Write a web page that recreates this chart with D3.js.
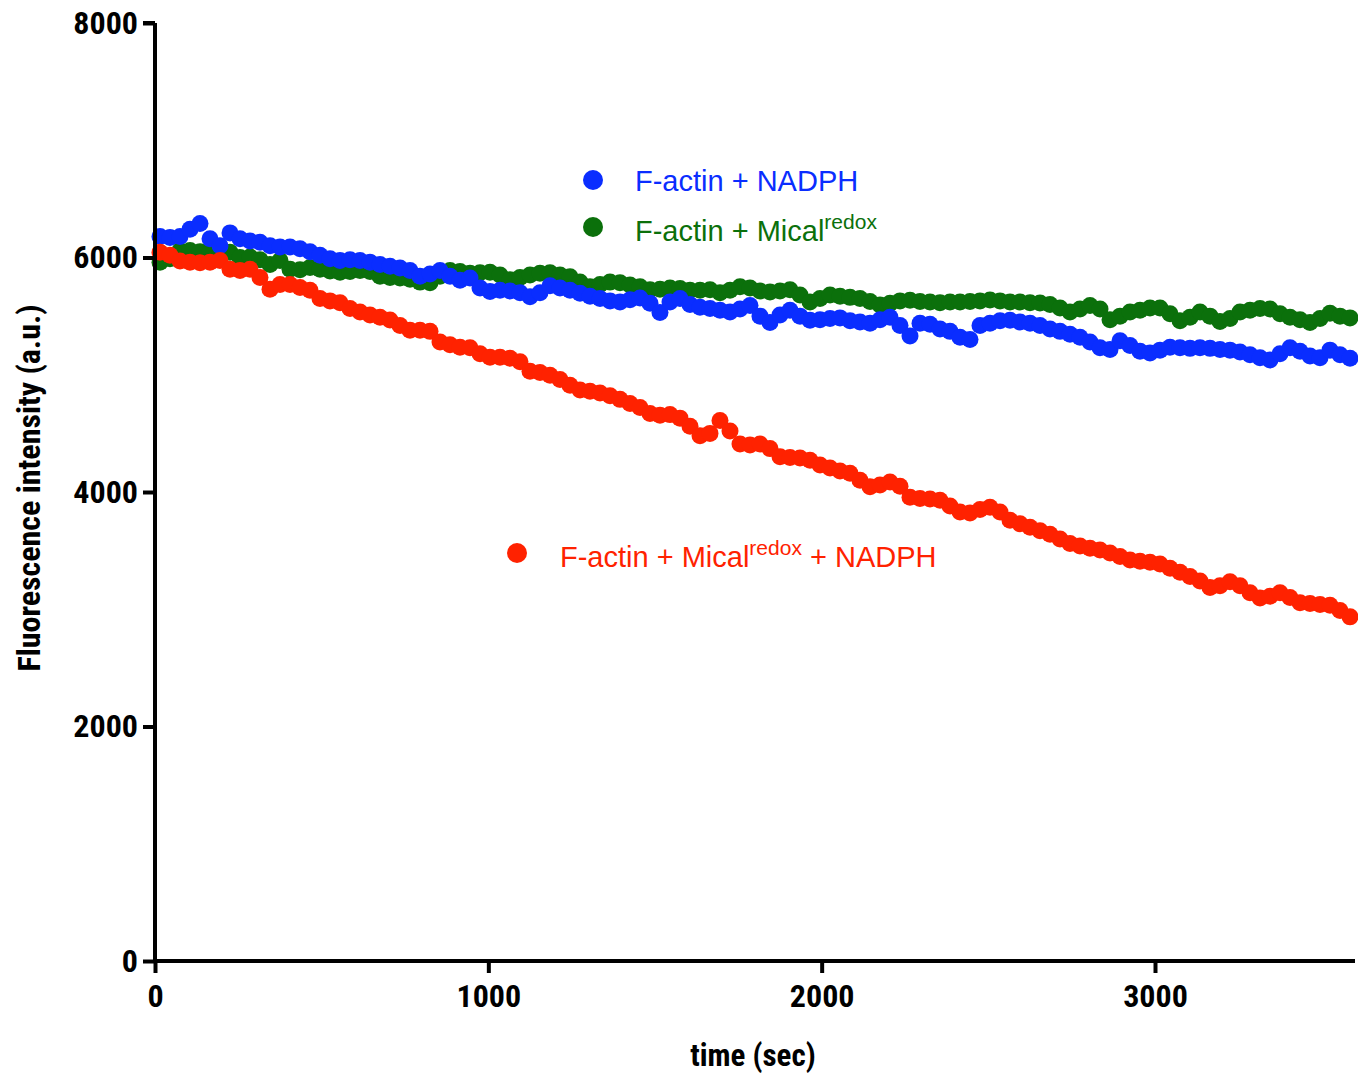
<!DOCTYPE html>
<html>
<head>
<meta charset="utf-8">
<script src="https://cdn.jsdelivr.net/npm/d3@7"></script>
<style>
  html, body { margin: 0; padding: 0; background: #fff; }
  svg { display: block; }
  .narrow { font-family: "Liberation Sans Narrow", "Arial Narrow", "Roboto Condensed", "Liberation Sans", Arial, sans-serif; }
  .legend { font-family: "Liberation Sans", Arial, Helvetica, sans-serif; }
</style>
</head>
<body>
<svg id="chart" width="1358" height="1079"></svg>
<script>
// ---- data ----
const startTime = 15;      // s, first reading
const sampleStep = 30;     // s between readings

const seriesNames = ["F-actin + NADPH", "F-actin + Mical redox", "F-actin + Mical redox + NADPH"];

const nadph = [6180,6170,6180,6240,6290,6160,6100,6210,6160,6140,
  6130,6100,6090,6090,6075,6050,6020,5990,5975,5980,
  5975,5960,5940,5925,5910,5890,5840,5860,5890,5840,
  5805,5825,5740,5710,5720,5715,5700,5665,5700,5760,
  5740,5720,5695,5670,5650,5630,5620,5640,5655,5610,
  5530,5620,5650,5600,5575,5565,5550,5535,5560,5590,
  5500,5445,5510,5550,5500,5465,5470,5480,5485,5460,
  5450,5440,5470,5490,5420,5330,5440,5430,5390,5370,
  5320,5300,5420,5440,5460,5465,5450,5440,5420,5390,
  5370,5345,5320,5280,5230,5215,5290,5250,5200,5185,
  5210,5235,5230,5225,5230,5225,5215,5210,5195,5170,
  5145,5125,5180,5230,5200,5160,5145,5210,5170,5140];

const micalRedox = [5960,5990,6060,6060,6050,6045,6040,6045,6000,6005,
  5980,5940,5975,5900,5895,5915,5900,5885,5875,5880,
  5890,5880,5840,5830,5825,5815,5790,5785,5840,5890,
  5880,5865,5870,5875,5850,5810,5830,5850,5865,5870,
  5850,5835,5790,5750,5770,5790,5785,5765,5750,5725,
  5730,5740,5735,5720,5720,5725,5700,5720,5750,5740,
  5715,5705,5715,5725,5680,5620,5650,5680,5670,5660,
  5650,5625,5595,5610,5630,5635,5625,5620,5615,5620,
  5620,5625,5630,5637,5630,5620,5620,5615,5612,5600,
  5570,5535,5560,5590,5560,5470,5500,5535,5550,5570,
  5570,5520,5460,5490,5535,5500,5455,5480,5535,5550,
  5565,5560,5520,5490,5470,5445,5480,5525,5500,5485];

const micalRedoxNadph = [6045,6020,5970,5960,5955,5960,5975,5900,5890,5900,
  5830,5730,5770,5770,5745,5720,5650,5630,5615,5565,
  5535,5510,5490,5467,5420,5380,5380,5370,5280,5255,
  5235,5230,5180,5150,5150,5140,5110,5030,5020,4995,
  4960,4910,4870,4860,4845,4820,4790,4755,4720,4670,
  4655,4660,4630,4560,4480,4500,4610,4520,4410,4400,
  4410,4370,4300,4295,4290,4270,4230,4205,4180,4160,
  4100,4045,4060,4085,4050,3955,3945,3940,3930,3880,
  3830,3820,3850,3870,3830,3760,3730,3700,3670,3640,
  3600,3560,3540,3520,3505,3480,3450,3420,3410,3400,
  3385,3350,3315,3280,3240,3185,3200,3235,3200,3140,
  3095,3110,3140,3100,3055,3050,3040,3035,2990,2935];

const xTicks = [0, 1000, 2000, 3000];
const yTicks = [0, 2000, 4000, 6000, 8000];
const colors = ["#0a2dff", "#0b700b", "#ff2200"];

// ---- layout ----
const svg = d3.select("#chart");
const x = d3.scaleLinear().domain([0, 3600]).range([155, 1355]);
const y = d3.scaleLinear().domain([0, 8000]).range([961, 23]);

const times = d3.range(nadph.length).map(i => startTime + i * sampleStep);
const toPts = arr => arr.map((v, i) => ({t: times[i], v}));

// draw order: green, blue, red
const drawOrder = [
  {data: toPts(micalRedox), color: colors[1]},
  {data: toPts(nadph), color: colors[0]},
  {data: toPts(micalRedoxNadph), color: colors[2]}
];
drawOrder.forEach(s => {
  svg.append("g").selectAll("circle").data(s.data).join("circle")
    .attr("cx", d => x(d.t)).attr("cy", d => y(d.v)).attr("r", 8.5)
    .attr("fill", s.color);
});

// ---- axes ----
const yAxis = svg.append("g").attr("transform", "translate(155,0)")
  .call(d3.axisLeft(y).tickValues(yTicks).tickSize(12).tickPadding(5).tickFormat(d3.format("d")));
const xAxis = svg.append("g").attr("transform", "translate(0,961)")
  .call(d3.axisBottom(x).tickValues(xTicks).tickSize(12).tickPadding(8).tickFormat(d3.format("d")));

[yAxis, xAxis].forEach(a => {
  a.select(".domain").attr("stroke", "#000").attr("stroke-width", 4);
  a.selectAll(".tick line").attr("stroke", "#000").attr("stroke-width", 4);
  a.selectAll(".tick text").attr("class", "narrow").attr("fill", "#000")
    .style("font-size", "32px").style("font-weight", "bold");
});
yAxis.select(".domain").attr("d", `M0,${y(8000)}H-12M0,${y(8000)}V${y(0)}`);
xAxis.select(".domain").attr("d", `M${x(0)},0H${x(3600)}`);
xAxis.selectAll(".tick text").attr("dy", "0.8em");

// axis titles
svg.append("text").attr("class", "narrow").attr("x", 753).attr("y", 1066)
  .attr("text-anchor", "middle").style("font-size", "31px").style("font-weight", "bold")
  .text("time (sec)");
svg.append("text").attr("class", "narrow")
  .attr("transform", "translate(40,488) rotate(-90)")
  .attr("text-anchor", "middle").style("font-size", "32px").style("font-weight", "bold")
  .text("Fluorescence intensity (a.u.)");

// ---- legend ----
const legend = [
  {cx: 593, cy: 180, tx: 635, ty: 191, color: colors[0], parts: [["F-actin + NADPH", false]]},
  {cx: 593, cy: 227, tx: 635, ty: 241, color: colors[1], parts: [["F-actin + Mical", false], ["redox", true]]},
  {cx: 517, cy: 553, tx: 560, ty: 567, color: colors[2], parts: [["F-actin + Mical", false], ["redox", true], [" + NADPH", false]]}
];
legend.forEach(l => {
  svg.append("circle").attr("cx", l.cx).attr("cy", l.cy).attr("r", 10).attr("fill", l.color);
  const t = svg.append("text").attr("class", "legend").attr("x", l.tx).attr("y", l.ty)
    .attr("fill", l.color).style("font-size", "29px");
  let prevSup = false;
  l.parts.forEach(([txt, sup]) => {
    const ts = t.append("tspan").text(txt);
    if (sup) { ts.attr("dy", -12).style("font-size", "21px"); }
    else if (prevSup) { ts.attr("dy", 12); }
    prevSup = sup;
  });
});
</script>
</body>
</html>
